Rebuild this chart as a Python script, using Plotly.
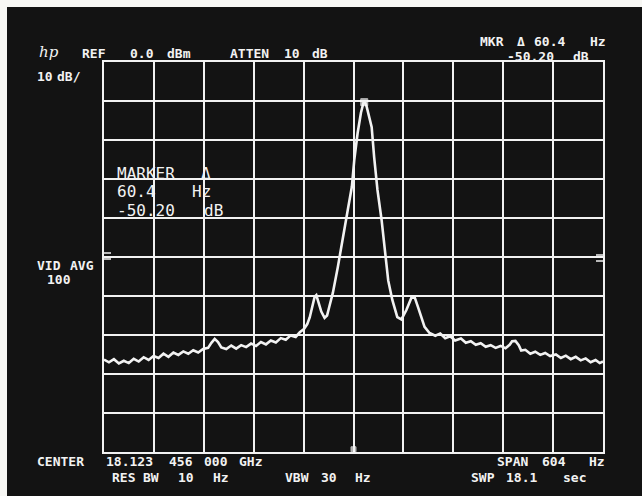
import plotly.graph_objects as go

# ---- data (frequency offset from center in Hz, level in dBm) ----
freq_hz = [-302, -296, -290, -284, -278, -272, -266, -260, -254, -248, -242, -236, -230, -224,
           -218, -212, -206, -200, -194, -188, -182, -176, -172, -168, -164, -160, -154, -148,
           -142, -136, -130, -124, -118, -112, -106, -100, -94, -88, -82, -76, -70, -65, -60,
           -56, -53, -50, -47, -45, -42, -39, -35, -32, -29, -25, -19, -13, -7, -2, 1, 5, 9,
           12, 14, 16, 22, 25, 29, 34, 38, 42, 47, 53, 58, 64, 70, 74, 78, 82, 86, 92,
           99, 105, 111, 117, 123, 130, 136, 142, 148, 154, 160, 166, 172, 178, 184, 189,
           192, 196, 200, 203, 208, 214, 220, 226, 232, 238, 245, 251, 257, 263, 269, 275,
           281, 287, 293, 298, 302]
level_dbm = [-76.3, -77.0, -76.2, -77.3, -76.6, -77.2, -76.1, -76.8, -75.7, -76.4, -75.4, -75.9, -74.8, -75.6,
             -74.5, -75.1, -74.2, -74.8, -73.9, -74.5, -73.6, -73.3, -72.0, -71.0, -71.8, -73.2, -73.6, -72.7,
             -73.5, -72.6, -73.1, -72.2, -72.8, -71.8, -72.4, -71.4, -71.9, -70.8, -71.2, -70.1, -70.5, -69.3, -68.5,
             -67.2, -65.5, -62.5, -60.2, -59.8, -62.0, -64.0, -65.6, -65.0, -62.5, -59.2, -52.6, -44.9, -38.0, -32.0, -25.0, -18.2, -13.0,
             -10.5, -10.3, -11.5, -16.7, -24.4, -32.8, -40.5, -48.2, -56.0, -61.0, -65.4, -66.0, -63.6, -60.5, -60.3, -62.8, -65.6, -67.9, -69.5,
             -70.2, -69.6, -70.8, -70.3, -71.4, -70.9, -72.0, -71.6, -72.5, -72.1, -73.0, -72.6, -73.3, -72.8, -73.4, -72.5,
             -71.6, -71.5, -72.6, -74.0, -73.8, -74.8, -74.3, -75.1, -74.6, -75.4, -75.0, -75.9, -75.3, -76.2, -75.6, -76.5,
             -76.0, -77.0, -76.4, -77.2, -76.8]

marker_freq_hz = [13, 0]
marker_level_dbm = [-10.3, -99.3]

span_hz = 604
ref_dbm = 0.0
db_per_div = 10

W, H = 642, 496
L, R, T, B = 104, 39, 62, 44
PW, PH = W - L - R, H - T - B

FG = "#f2f2f2"
BG = "#131313"
MONO = "DejaVu Sans Mono"

fig = go.Figure()
fig.add_trace(go.Scatter(x=freq_hz, y=level_dbm, mode="lines",
                         line=dict(color=FG, width=2.6), hoverinfo="skip"))
fig.add_trace(go.Scatter(x=marker_freq_hz, y=marker_level_dbm, mode="markers",
                         marker=dict(symbol="square", size=[7, 5], color=FG), hoverinfo="skip"))

def px(x):
    return (x - L) / PW

def py(y):
    return 1 - (y - T) / PH

texts = [
    # header
    ("REF", 80, 53, 13), ("0.0", 128, 53, 13), ("dBm", 165, 53, 13),
    ("ATTEN", 228, 53, 13), ("10", 282, 53, 13), ("dB", 310, 53, 13),
    ("MKR", 478, 42, 13), ("Δ", 515, 42, 13), ("60.4", 532, 42, 13), ("Hz", 588, 42, 13),
    ("-50.20", 505, 56, 13), ("dB", 571, 56, 13),
    ("10", 35, 77, 13), ("dB/", 55, 77, 13),
    ("VID", 35, 265, 13), ("AVG", 68, 265, 13), ("100", 45, 279, 13),
    # marker readout
    ("MARKER", 115, 173, 16), ("Δ", 199, 173, 16),
    ("60.4", 115, 192, 16), ("Hz", 190, 192, 16),
    ("-50.20", 115, 210, 16), ("dB", 202, 210, 16),
    # footer
    ("CENTER", 35, 462, 13), ("18.123", 104, 462, 13), ("456", 167, 462, 13),
    ("000", 202, 462, 13), ("GHz", 237, 462, 13),
    ("SPAN", 495, 462, 13), ("604", 540, 462, 13), ("Hz", 587, 462, 13),
    ("RES", 110, 477, 13), ("BW", 141, 477, 13), ("10", 176, 477, 13), ("Hz", 211, 477, 13),
    ("VBW", 283, 477, 13), ("30", 319, 477, 13), ("Hz", 353, 477, 13),
    ("SWP", 469, 477, 13), ("18.1", 504, 477, 13), ("sec", 561, 477, 13),
]
annotations = []
for t, x, y, s in texts:
    annotations.append(dict(text=t, x=px(x), y=py(y), xref="paper", yref="paper",
                            xanchor="left", yanchor="middle", showarrow=False,
                            font=dict(family=MONO, size=s, color=FG,
                                      weight="bold" if s < 14 else "normal")))
annotations.append(dict(text="<i>hp</i>", x=px(37), y=py(52), xref="paper", yref="paper",
                        xanchor="left", yanchor="middle", showarrow=False,
                        font=dict(family="DejaVu Serif", size=15, color=FG)))

shapes = [
    # white photo margin top/left
    dict(type="rect", xref="paper", yref="paper", x0=px(0), x1=px(W + 5), y0=py(0), y1=py(7),
         fillcolor="#f7f7f4", line=dict(width=0), layer="below"),
    dict(type="rect", xref="paper", yref="paper", x0=px(0), x1=px(7), y0=py(0), y1=py(H + 5),
         fillcolor="#f7f7f4", line=dict(width=0), layer="below"),
    # display-line ticks at the edges
    dict(type="line", xref="paper", yref="paper", x0=px(104), x1=px(111), y0=py(253), y1=py(253),
         line=dict(color=FG, width=1.5)),
    dict(type="line", xref="paper", yref="paper", x0=px(104), x1=px(111), y0=py(259), y1=py(259),
         line=dict(color=FG, width=1.5)),
    dict(type="line", xref="paper", yref="paper", x0=px(596), x1=px(603), y0=py(255), y1=py(255),
         line=dict(color=FG, width=1.5)),
    dict(type="line", xref="paper", yref="paper", x0=px(596), x1=px(603), y0=py(261), y1=py(261),
         line=dict(color=FG, width=1.5)),
]

fig.update_layout(
    width=W, height=H,
    margin=dict(l=L, r=R, t=T, b=B),
    paper_bgcolor=BG, plot_bgcolor=BG,
    showlegend=False,
    annotations=annotations, shapes=shapes,
    xaxis=dict(range=[-span_hz / 2, span_hz / 2], tick0=-span_hz / 2, dtick=span_hz / 10,
               showgrid=True, gridcolor=FG, gridwidth=1.8, showticklabels=False, ticks="",
               zeroline=False, showline=True, linecolor=FG, linewidth=2, mirror=True, fixedrange=True),
    yaxis=dict(range=[ref_dbm - 10 * db_per_div, ref_dbm], tick0=ref_dbm, dtick=db_per_div,
               showgrid=True, gridcolor=FG, gridwidth=1.8, showticklabels=False, ticks="",
               zeroline=False, showline=True, linecolor=FG, linewidth=2, mirror=True, fixedrange=True),
)

fig.write_html("out.html", config={"displayModeBar": False},
               post_script="document.body.style.margin='0';document.body.style.overflow='hidden';")
